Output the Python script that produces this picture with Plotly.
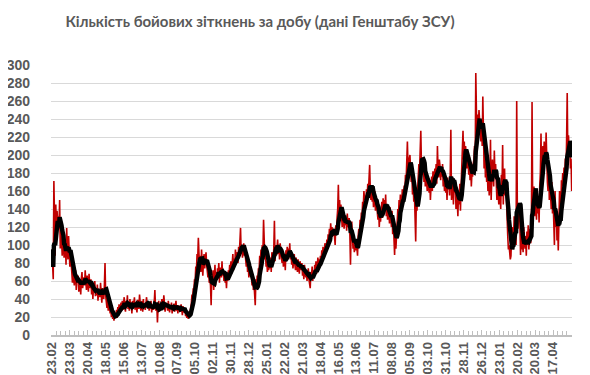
import pandas as pd
import plotly.graph_objects as go

start_date = "2023-02-23"
label_count = 29          # labelled dates, one every 28 days (23.02 ... 17.04)
label_step_days = 28

daily_clashes = [
    95, 70, 62, 171, 112, 88, 145, 108, 138, 125,
    132, 118, 150, 96, 128, 104, 88, 112, 95, 86,
    92, 104, 78, 119, 96, 84, 110, 82, 76, 92,
    84, 70, 58, 76, 62, 55, 68, 72, 50, 64,
    58, 66, 48, 62, 56, 45, 63, 70, 52, 60,
    64, 55, 72, 58, 50, 66, 61, 48, 68, 57,
    52, 62, 45, 58, 40, 54, 47, 60, 43, 51,
    44, 56, 38, 50, 47, 42, 58, 45, 36, 52,
    48, 40, 55, 80, 44, 38, 30, 42, 27, 35,
    32, 24, 28, 20, 25, 18, 22, 16, 24, 20,
    22, 28, 19, 31, 26, 34, 24, 30, 36, 27,
    38, 28, 35, 42, 30, 26, 38, 33, 44, 29,
    35, 27, 40, 31, 36, 24, 38, 30, 34, 42,
    28, 36, 30, 25, 39, 33, 29, 45, 31, 27,
    34, 38, 26, 40, 30, 35, 28, 37, 42, 31,
    30, 36, 27, 34, 29, 38, 25, 33, 31, 28,
    36, 50, 30, 27, 34, 14, 31, 38, 26, 33,
    29, 35, 40, 28, 33, 44, 30, 26, 36, 31,
    34, 27, 38, 30, 25, 33, 29, 36, 24, 32,
    28, 35, 26, 31, 38, 27, 30, 24, 33, 29,
    31, 26, 34, 29, 22, 32, 27, 25, 30, 21,
    24, 19, 27, 18, 22, 20, 26, 30, 35, 45,
    40, 52, 50, 62, 60, 76, 72, 90, 84, 108,
    78, 72, 88, 70, 95, 84, 66, 82, 90, 74,
    86, 92, 78, 70, 64, 75, 58, 62, 55, 33,
    66, 58, 72, 50, 64, 78, 55, 70, 62, 74,
    68, 80, 58, 75, 70, 64, 82, 66, 72, 60,
    70, 58, 64, 52, 68, 60, 72, 66, 78, 70,
    82, 68, 80, 90, 72, 85, 78, 95, 84, 90,
    92, 80, 98, 88, 104, 119, 90, 100, 86, 96,
    102, 88, 94, 84, 76, 90, 70, 78, 64, 72,
    66, 74, 60, 55, 68, 50, 58, 48, 33, 62,
    52, 66, 58, 74, 70, 88, 82, 95, 86, 100,
    92, 128, 98, 84, 90, 76, 82, 70, 78, 72,
    80, 74, 86, 70, 92, 84, 78, 96, 127, 82,
    100, 88, 94, 106, 90, 98, 84, 102, 92, 86,
    80, 92, 76, 84, 88, 72, 94, 86, 98, 90,
    96, 88, 102, 84, 92, 78, 86, 74, 82, 90,
    78, 72, 86, 80, 70, 84, 76, 68, 82, 74,
    72, 80, 66, 74, 62, 78, 70, 64, 72, 60,
    68, 74, 62, 58, 52, 70, 66, 76, 60, 72,
    64, 78, 70, 82, 68, 76, 86, 72, 84, 78,
    88, 80, 94, 84, 98, 90, 86, 102, 96, 92,
    106, 98, 112, 104, 118, 108, 124, 112, 120, 116,
    110, 118, 104, 100, 122, 112, 130, 140, 167, 132,
    150, 128, 145, 132, 120, 138, 125, 118, 130, 122,
    128, 116, 135, 120, 124, 130, 112, 78, 118, 126,
    108, 96, 104, 92, 100, 94, 106, 98, 88, 110,
    118, 112, 128, 122, 136, 130, 148, 142, 160, 150,
    155, 145, 162, 150, 168, 158, 172, 189, 160, 150,
    165, 148, 158, 142, 152, 160, 138, 150, 144, 132,
    128, 140, 120, 135, 126, 138, 148, 130, 152, 142,
    150, 138, 156, 132, 144, 128, 140, 136, 124, 142,
    130, 120, 138, 112, 126, 104, 89, 118, 96, 110,
    124, 140, 132, 150, 138, 156, 146, 140, 162, 150,
    154, 166, 158, 178, 170, 186, 215, 185, 176, 196,
    200, 182, 170, 180, 156, 168, 148, 158, 140, 104,
    150, 138, 162, 175, 190, 182, 205, 227, 188, 196,
    178, 192, 170, 185, 165, 180, 172, 160, 176, 168,
    158, 172, 150, 165, 176, 160, 182, 168, 175, 185,
    178, 190, 168, 210, 182, 175, 195, 188, 172, 184,
    176, 190, 165, 180, 160, 172, 158, 168, 150, 175,
    162, 170, 155, 178, 228, 150, 160, 175, 145, 168,
    158, 172, 140, 165, 150, 132, 160, 145, 168, 138,
    165, 180, 205, 227, 195, 215, 190, 210, 200, 185,
    205, 192, 178, 198, 172, 188, 165, 180, 176, 190,
    195, 210, 185, 291, 220, 205, 245, 232, 250, 240,
    228, 215, 238, 210, 265, 205, 185, 220, 175, 190,
    170, 182, 160, 175, 155, 168, 217, 150, 172, 195,
    180, 165, 205, 176, 190, 160, 150, 172, 158, 145,
    168, 150, 140, 178, 160, 211, 145, 172, 185, 155,
    165, 150, 120, 110, 95, 100, 92, 84, 88, 110,
    98, 120, 105, 132, 110, 126, 100, 260, 140, 118,
    135, 145, 125, 89, 112, 95, 104, 92, 120, 100,
    96, 110, 88, 115, 100, 122, 95, 108, 118, 102,
    125, 259, 140, 150, 165, 132, 155, 140, 128, 158,
    135, 150, 125, 165, 180, 224, 170, 195, 210, 185,
    215, 200, 190, 225, 180, 170, 160, 188, 150, 165,
    155, 140, 170, 135, 150, 128, 100, 160, 120, 140,
    105, 130, 94, 125, 160, 150, 140, 172, 165, 180,
    168, 186, 172, 196, 180, 214, 269, 198, 222, 205,
    215, 185, 196, 160,
]

title_text = "Кількість бойових зіткнень за добу (дані Генштабу ЗСУ)"

dates = pd.date_range(start_date, periods=len(daily_clashes), freq="D")
series = pd.Series(daily_clashes, index=dates)
moving_avg = series.rolling(7, min_periods=1).mean()

label_dates = pd.date_range(start_date, periods=label_count, freq=f"{label_step_days}D")
label_text = [d.strftime("%d.%m") for d in label_dates]

fig = go.Figure()
fig.add_trace(go.Scatter(
    x=dates, y=series.values, mode="lines",
    line=dict(color="#C00000", width=1.6), hoverinfo="skip",
))
fig.add_trace(go.Scatter(
    x=dates, y=moving_avg.values, mode="lines",
    line=dict(color="#000000", width=4.4), hoverinfo="skip",
))

day_ms = 86400000
fig.update_layout(
    width=590, height=375,
    paper_bgcolor="white", plot_bgcolor="white",
    showlegend=False,
    margin=dict(l=43, r=26, t=57, b=48, autoexpand=False),
    title=dict(
        text="<b>" + title_text + "</b>",
        x=252 / 590, xanchor="center", xref="container",
        y=1 - 14 / 375, yanchor="middle", yref="container",
        font=dict(family="Lato, Open Sans, sans-serif", size=15, color="#595959"),
    ),
    xaxis=dict(
        type="date",
        range=[dates[0] - pd.Timedelta(hours=36), dates[-1] + pd.Timedelta(hours=12)],
        tickmode="array", tickvals=label_dates, ticktext=label_text,
        tickangle=-90,
        tickfont=dict(family="Liberation Sans, Arial, sans-serif", size=13,
                      color="#595959", weight="bold"),
        showgrid=False, zeroline=False,
        showline=True, linecolor="#bfbfbf", linewidth=1.5,
        ticks="inside", ticklen=5, tickcolor="#bfbfbf", tickwidth=1,
        minor=dict(dtick=7 * day_ms, tick0=start_date, ticks="inside",
                   ticklen=4, tickcolor="#bfbfbf", tickwidth=1, showgrid=False),
        automargin=False,
    ),
    yaxis=dict(
        range=[0, 300], dtick=20,
        tickfont=dict(family="Liberation Sans, Arial, sans-serif", size=14,
                      color="#595959", weight="bold"),
        showgrid=True, gridcolor="#d9d9d9", gridwidth=1,
        zeroline=False, showline=False,
        ticks="", ticklabelstandoff=20,
        automargin=False,
    ),
)

fig.write_html("out.html")
